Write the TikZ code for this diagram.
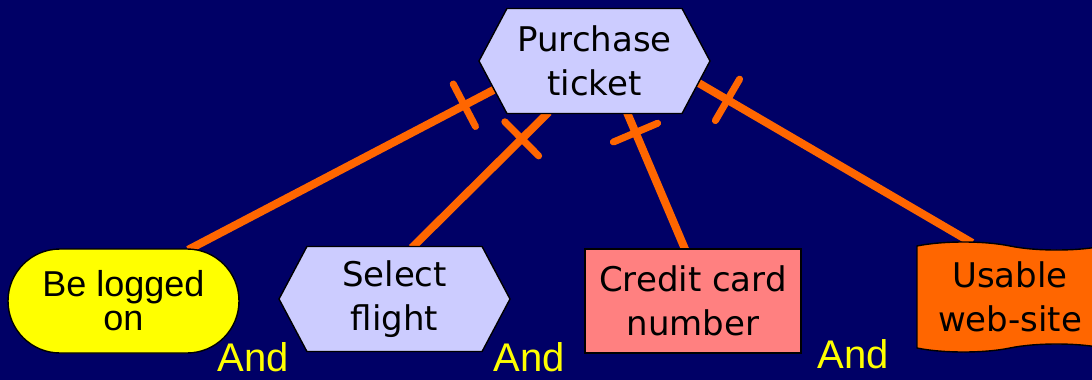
\documentclass[tikz,border=0pt]{standalone}
\usepackage{fontspec}
\setmainfont{DejaVu Sans}
\newfontfamily\arialfont{Liberation Sans}
\usetikzlibrary{shapes.symbols, shapes.misc, decorations.markings}
\definecolor{navy}{HTML}{000066}
\definecolor{lav}{HTML}{CCCCFF}
\definecolor{org}{HTML}{FF6600}
\definecolor{pinkish}{HTML}{FF8080}
\definecolor{yel}{HTML}{FFFF00}
\pgfdeclarelayer{bg}
\pgfsetlayers{bg,main}
\tikzset{
  box/.style = {draw=black, line width=1.4pt, inner sep=0pt, align=center,
    font=\fontsize{34pt}{44pt}\selectfont},
  hexa/.style = {box, signal, signal to=west and east, signal pointer angle=124,
    fill=lav, minimum width=231pt, minimum height=105pt},
  soft/.style = {box, rounded rectangle, fill=yel, minimum width=231pt,
    minimum height=104pt, font=\arialfont\fontsize{36pt}{34pt}\selectfont},
  card/.style = {box, rectangle, fill=pinkish, minimum width=216pt,
    minimum height=104pt},
  wave/.style = {box, tape, tape bend top=out and in, tape bend bottom=in and out,
    tape bend height=8pt, fill=org, minimum width=186pt, minimum height=110pt},
  andlbl/.style = {text=yel, anchor=base, inner sep=0pt,
    font=\arialfont\fontsize{40pt}{40pt}\selectfont},
  link/.style = {draw=org, line width=8pt, shorten <=-3pt, shorten >=-3pt},
  cross/.style = {postaction={decorate}, decoration={markings,
    mark=at position #1 with {\draw[draw=org, line width=7pt, line cap=round]
      (0,-21pt) -- (0,21pt);}}}
}

\begin{document}
\begin{tikzpicture}[x=1pt, y=-1pt]
  \useasboundingbox (0,0) rectangle (1092,380);
  \begin{pgfonlayer}{bg}
    \fill [navy] (0,0) rectangle (1092,380);
  \end{pgfonlayer}
  % goal and its four sub-goals
  \node [hexa] (pt) at (594.5,61) {Purchase\\ticket};
  \node [soft] (be) at (123.5,301) {Be logged\\on};
  \node [hexa] (sf) at (394.5,299) {Select\\flight};
  \node [card] (cc) at (693,301) {Credit card\\number};
  \node [wave] (uw) at (1010,297) {Usable\\web-site};
  \node [andlbl] (and1) at (253,371) {And};
  \node [andlbl] (and2) at (529,371) {And};
  \node [andlbl] (and3) at (853,368) {And};
  % links, drawn under the nodes
  \begin{pgfonlayer}{bg}
    \draw [link, cross=33pt] (pt.196) -- (be.38);
    \draw [link, cross=35pt] (pt.228) -- (sf.70);
    \draw [link, cross=20pt] (pt.302) -- (cc.99);
    \draw [link, cross=33pt] (pt.348) -- (uw.126);
  \end{pgfonlayer}
\end{tikzpicture}
\end{document}
